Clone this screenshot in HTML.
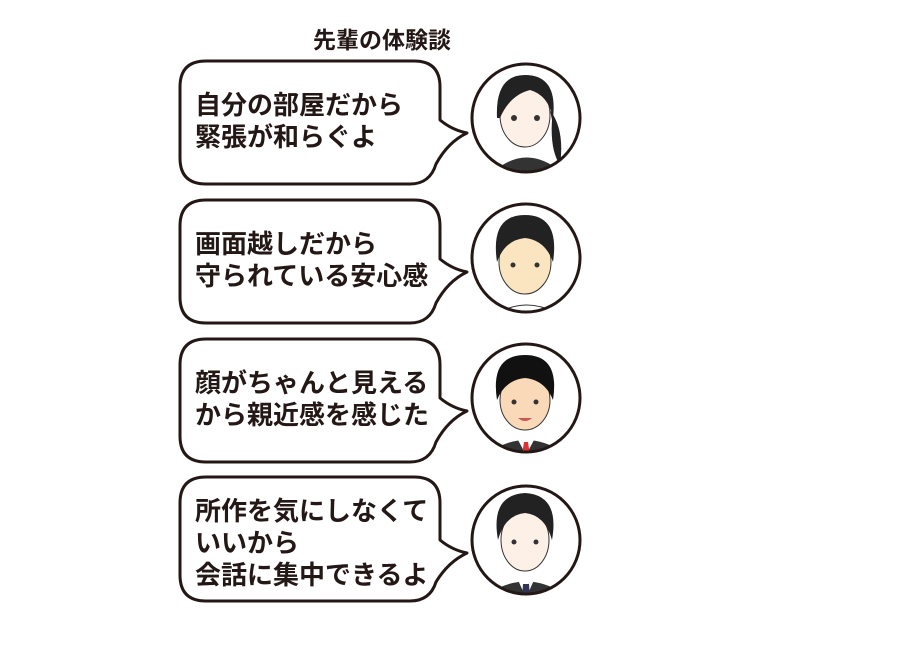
<!DOCTYPE html>
<html><head><meta charset="utf-8"><style>
body{margin:0;background:#fff;width:910px;height:651px;overflow:hidden}
svg text{font-family:"Liberation Sans","Noto Sans CJK JP",sans-serif;font-weight:bold;fill:#231815}
</style></head><body>
<svg width="910" height="651" viewBox="0 0 910 651">
<text x="382" y="48" font-size="23" text-anchor="middle">先輩の体験談</text>
<g fill="#fff" stroke="#231815" stroke-width="3" stroke-linejoin="round">
<path d="M206,61 H414 Q440,61 440,87 V120 Q452,130 467,133 Q448,142 436,164 Q430,184 410,184 H206 Q180,184 180,158 V87 Q180,61 206,61 Z"/>
<path d="M206,200 H414 Q440,200 440,226 V259 Q452,269 467,272 Q448,281 436,303 Q430,323 410,323 H206 Q180,323 180,297 V226 Q180,200 206,200 Z"/>
<path d="M206,339 H414 Q440,339 440,365 V398 Q452,408 467,411 Q448,420 436,442 Q430,462 410,462 H206 Q180,462 180,436 V365 Q180,339 206,339 Z"/>
<path d="M206,477 H414 Q440,477 440,503 V540 Q452,550 467,553 Q448,562 436,582 Q430,601 410,601 H206 Q180,601 180,575 V503 Q180,477 206,477 Z"/>
</g>
<g font-size="26">
<text x="195" y="114">自分の部屋だから</text>
<text x="195" y="146">緊張が和らぐよ</text>
<text x="195" y="253">画面越しだから</text>
<text x="195" y="285">守られている安心感</text>
<text x="195" y="392">顔がちゃんと見える</text>
<text x="195" y="424">から親近感を感じた</text>
<text x="195" y="520">所作を気にしなくて</text>
<text x="195" y="552">いいから</text>
<text x="195" y="584">会話に集中できるよ</text>
</g>
<defs><clipPath id="c1"><circle cx="526" cy="118" r="54"/></clipPath>
<clipPath id="c2"><circle cx="526" cy="258" r="54"/></clipPath>
<clipPath id="c3"><circle cx="526" cy="398" r="54"/></clipPath>
<clipPath id="c4"><circle cx="526" cy="540" r="54"/></clipPath></defs>
<g clip-path="url(#c1)"><rect x="470" y="60" width="120" height="120" fill="#fff"/>
<path d="M490,175 Q526,140 565,175 Z" fill="#333"/><ellipse cx="525" cy="115" rx="25" ry="32" fill="#fdf0e6" stroke="#333"/>
<path d="M497,118 Q495,75 525,75 Q558,75 553,118 Q548,95 530,90 Q510,95 500,118Z" fill="#222"/>
<path d="M550,110 Q565,130 560,165 Q550,150 552,120Z" fill="#222"/>
<circle cx="514" cy="118" r="3" fill="#333"/><circle cx="537" cy="118" r="3" fill="#333"/></g>
<g clip-path="url(#c2)"><rect x="470" y="200" width="120" height="120" fill="#fff"/>
<path d="M495,315 Q526,295 560,315 Z" fill="#fff" stroke="#333"/><ellipse cx="525" cy="262" rx="26" ry="32" fill="#fbe5c0" stroke="#333"/>
<path d="M497,262 Q490,215 525,215 Q560,215 553,262 Q545,240 525,238 Q505,240 497,262Z" fill="#222"/>
<circle cx="513" cy="265" r="2.5" fill="#333"/><circle cx="537" cy="265" r="2.5" fill="#333"/></g>
<g clip-path="url(#c3)"><rect x="470" y="340" width="120" height="120" fill="#fff"/>
<path d="M485,455 Q526,425 567,455 Z" fill="#333"/><path d="M518,440 L534,440 L526,455Z" fill="#fff"/><path d="M524,442 L528,442 L530,455 L522,455Z" fill="#d33"/>
<ellipse cx="525" cy="400" rx="25" ry="30" fill="#f9d9b8" stroke="#333"/>
<path d="M497,400 Q490,355 525,355 Q560,355 553,400 Q545,380 525,378 Q505,380 497,400Z" fill="#111"/>
<circle cx="514" cy="402" r="2.5" fill="#333"/><circle cx="536" cy="402" r="2.5" fill="#333"/><path d="M518,418 Q525,424 532,418" fill="#c55"/></g>
<g clip-path="url(#c4)"><rect x="470" y="480" width="120" height="120" fill="#fff"/>
<path d="M482,598 Q526,565 570,598 Z" fill="#333"/><path d="M518,580 L534,580 L526,598Z" fill="#fff"/><path d="M523,584 L529,584 L530,598 L522,598Z" fill="#335"/>
<ellipse cx="525" cy="540" rx="24" ry="31" fill="#fdf0e6" stroke="#333"/>
<path d="M498,540 Q490,495 525,493 Q560,495 552,540 Q545,515 525,513 Q505,515 498,540Z" fill="#222"/>
<circle cx="514" cy="542" r="2.5" fill="#333"/><circle cx="536" cy="542" r="2.5" fill="#333"/></g>
<g fill="none" stroke="#231815" stroke-width="3">
<circle cx="526" cy="118" r="54"/><circle cx="526" cy="258" r="54"/><circle cx="526" cy="398" r="54"/><circle cx="526" cy="540" r="54"/>
</g>
</svg>
</body></html>
